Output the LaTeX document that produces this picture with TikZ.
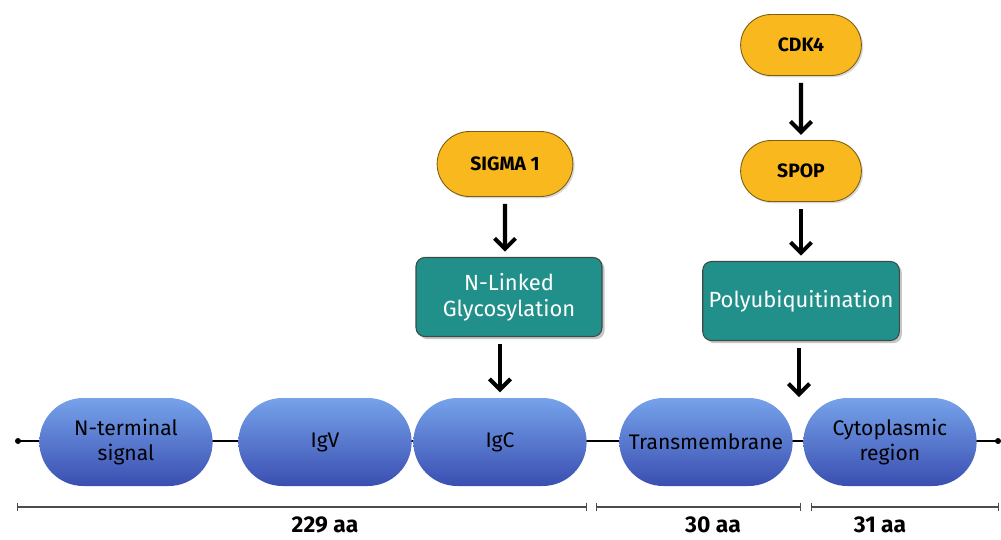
\documentclass[tikz,border=0pt]{standalone}
\usepackage{fontspec}
\setmainfont{Fira Sans}
\usetikzlibrary{arrows.meta,shadows,shapes.misc}

\definecolor{domtop}{HTML}{76A3EA}
\definecolor{dombot}{HTML}{3A4EB1}
\definecolor{partnerfill}{HTML}{F8B81E}
\definecolor{partnerline}{HTML}{7A5E12}
\definecolor{modfill}{HTML}{21908A}
\definecolor{modline}{HTML}{3C4A48}

\tikzset{
  dombox/.style={rounded rectangle, top color=domtop, bottom color=dombot,
    minimum width=3.7cm, minimum height=1.76cm, align=center,
    font=\fontsize{12}{14}\selectfont},
  partner/.style={rounded rectangle, fill=partnerfill, draw=partnerline, line width=0.5pt,
    minimum width=2.95cm, minimum height=1.3cm, font=\fontsize{11}{13}\selectfont\bfseries,
    drop shadow={opacity=0.3, shadow xshift=1pt, shadow yshift=-1pt}},
  modif/.style={rectangle, rounded corners=5pt, fill=modfill, draw=modline, line width=0.6pt,
    minimum width=3.72cm, minimum height=1.58cm, align=center, text=white,
    font=\fontsize{12.5}{15}\selectfont,
    drop shadow={opacity=0.45, shadow xshift=1.5pt, shadow yshift=-1.5pt}},
  linkarrow/.style={line width=2.3pt, -{Straight Barb[length=6pt,width=12pt]},
    shorten <=4pt, shorten >=3pt},
  spanbar/.style={draw=black!70, line width=0.6pt, {Bar[width=5pt]}-{Bar[width=5pt]}},
  spanlabel/.style={font=\fontsize{13}{15}\selectfont\bfseries}
}

\begin{document}
\begin{tikzpicture}[x=0.02cm, y=-0.02cm]
  \useasboundingbox (0,0) rectangle (1001,539);

  %%%%% backbone %%%%%
  \coordinate (lend) at (18,441);
  \coordinate (rend) at (998,441);
  \draw[line width=1.3pt] (lend) -- (rend);
  \fill (lend) circle (3);
  \fill (rend) circle (3);

  \node[dombox] (nterm) at (126,442) {N-terminal\\signal};
  \node[dombox] (igv) at (325,442) {IgV};
  \node[dombox] (igc) at (500,442) {IgC};
  \node[dombox] (tm) at (706,442) {Transmembrane};
  \node[dombox] (cyto) at (890,442) {Cytoplasmic\\region};

  %%%%% partners %%%%%
  \node[partner] (sigma) at (505,164) {SIGMA 1};
  \node[modif] (glyco) at (509,297) {N-Linked\\Glycosylation};

  \node[partner, minimum width=2.65cm, minimum height=1.22cm] (cdk) at (801,45) {CDK4};
  \node[partner, minimum width=2.65cm, minimum height=1.22cm] (spop) at (801,171) {SPOP};
  \node[modif] (poly) at (801,301) {Polyubiquitination};
  \coordinate (gap) at (799,397);

  \draw[linkarrow] (sigma) -- (sigma |- glyco.north);
  \draw[linkarrow] (glyco.south -| igc.north) -- (igc.north);
  \draw[linkarrow] (cdk) -- (spop);
  \draw[linkarrow] (spop.south) -- (spop.south |- poly.north);
  \draw[linkarrow, shorten >=0pt] (poly.south -| gap) -- (gap);

  %%%%% lengths %%%%%
  \coordinate (s1a) at (17,507);
  \coordinate (s1b) at (587,507);
  \coordinate (s2a) at (596,507);
  \coordinate (s2b) at (801,507);
  \coordinate (s3a) at (811,507);
  \coordinate (s3b) at (999,507);
  \draw[spanbar] (s1a) -- (s1b);
  \draw[spanbar] (s2a) -- (s2b);
  \draw[spanbar] (s3a) -- (s3b);
  \node[spanlabel] (len1) at (325,525) {229 aa};
  \node[spanlabel] (len2) at (713,525) {30 aa};
  \node[spanlabel] (len3) at (880,525) {31 aa};
\end{tikzpicture}
\end{document}
